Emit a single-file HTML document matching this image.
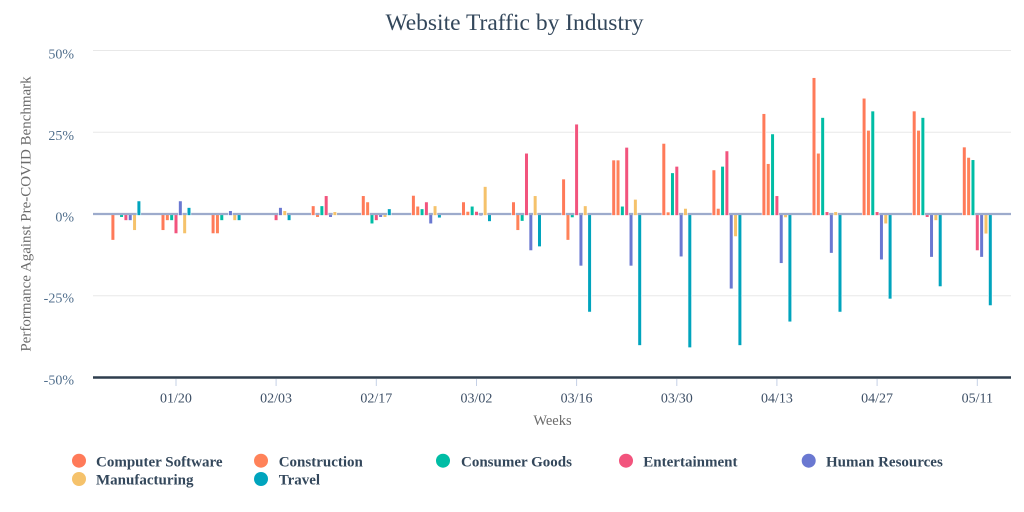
<!DOCTYPE html>
<html><head><meta charset="utf-8"><style>
html,body{margin:0;padding:0;background:#fff;}
svg{display:block;font-family:"Liberation Serif","Times New Roman",serif;}
.a{fill:#FF7A59}.b{fill:#FF8259}.c{fill:#00BDA5}.d{fill:#F2547D}.e{fill:#6A78D1}.f{fill:#F5C26B}.g{fill:#00A4BD}
.bars rect{stroke:#fff;stroke-width:.67;width:3.67px}
.yt{font-size:14px;fill:#506e8c;text-anchor:end}
.xt{font-size:14px;fill:#3d4f66;text-anchor:middle}
.lg{font-size:15px;font-weight:bold;fill:#33475b}
</style></head><body>
<svg width="1024" height="512" viewBox="0 0 1024 512" xmlns="http://www.w3.org/2000/svg">
<rect width="1024" height="512" fill="#fff"/>
<text x="514.5" y="30" text-anchor="middle" font-size="23.5" fill="#33475b">Website Traffic by Industry</text>
<g stroke="#e8e8e8" stroke-width="1">
<line x1="93" y1="50.5" x2="1011" y2="50.5"/>
<line x1="93" y1="132.3" x2="1011" y2="132.3"/>
<line x1="93" y1="295.8" x2="1011" y2="295.8"/>
</g>
<text class="yt" x="74" y="58.7">50%</text>
<text class="yt" x="74" y="140">25%</text>
<text class="yt" x="74" y="221.7">0%</text>
<text class="yt" x="74" y="302.7">-25%</text>
<text class="yt" x="74" y="384.3">-50%</text>
<text transform="translate(30.5 214) rotate(-90)" text-anchor="middle" font-size="15" fill="#6b6b6b">Performance Against Pre-COVID Benchmark</text>

<!-- negative bars -->
<g class="bars">
<g transform="translate(125.9 0)"><rect class="a" x="-14.84" y="214" height="26.2"/><rect class="c" x="-6.17" y="214" height="3.3"/><rect class="d" x="-1.84" y="214" height="6.5"/><rect class="e" x="2.5" y="214" height="6.5"/><rect class="f" x="6.83" y="214" height="16.4"/></g>
<g transform="translate(176 0)"><rect class="a" x="-14.84" y="214" height="16.4"/><rect class="b" x="-10.5" y="214" height="6.5"/><rect class="c" x="-6.17" y="214" height="6.5"/><rect class="d" x="-1.84" y="214" height="19.6"/><rect class="f" x="6.83" y="214" height="19.6"/></g>
<g transform="translate(226.1 0)"><rect class="a" x="-14.84" y="214" height="19.6"/><rect class="b" x="-10.5" y="214" height="19.6"/><rect class="c" x="-6.17" y="214" height="6.5"/><rect class="f" x="6.83" y="214" height="6.5"/><rect class="g" x="11.16" y="214" height="6.5"/></g>
<g transform="translate(276.1 0)"><rect class="d" x="-1.84" y="214" height="6.5"/><rect class="g" x="11.16" y="214" height="6.5"/></g>
<g transform="translate(326.2 0)"><rect class="b" x="-10.5" y="214" height="3.3"/><rect class="e" x="2.5" y="214" height="3.3"/></g>
<g transform="translate(376.3 0)"><rect class="c" x="-6.17" y="214" height="9.8"/><rect class="d" x="-1.84" y="214" height="6.5"/><rect class="e" x="2.5" y="214" height="3.3"/><rect class="f" x="6.83" y="214" height="3.3"/></g>
<g transform="translate(426.4 0)"><rect class="e" x="2.5" y="214" height="9.8"/><rect class="g" x="11.16" y="214" height="3.9"/></g>
<g transform="translate(476.5 0)"><rect class="e" x="2.5" y="214" height="1.8"/><rect class="g" x="11.16" y="214" height="7.5"/></g>
<g transform="translate(526.5 0)"><rect class="b" x="-10.5" y="214" height="16.4"/><rect class="c" x="-6.17" y="214" height="7.2"/><rect class="e" x="2.5" y="214" height="36.6"/><rect class="g" x="11.16" y="214" height="32.7"/></g>
<g transform="translate(576.6 0)"><rect class="b" x="-10.5" y="214" height="26.2"/><rect class="c" x="-6.17" y="214" height="3.6"/><rect class="e" x="2.5" y="214" height="52"/><rect class="g" x="11.16" y="214" height="98.1"/></g>
<g transform="translate(626.7 0)"><rect class="e" x="2.5" y="214" height="52"/><rect class="g" x="11.16" y="214" height="131.5"/></g>
<g transform="translate(676.8 0)"><rect class="e" x="2.5" y="214" height="42.8"/><rect class="g" x="11.16" y="214" height="133.7"/></g>
<g transform="translate(726.9 0)"><rect class="e" x="2.5" y="214" height="74.9"/><rect class="f" x="6.83" y="214" height="22.6"/><rect class="g" x="11.16" y="214" height="131.5"/></g>
<g transform="translate(776.9 0)"><rect class="e" x="2.5" y="214" height="49.4"/><rect class="f" x="6.83" y="214" height="3.6"/><rect class="g" x="11.16" y="214" height="107.9"/></g>
<g transform="translate(827 0)"><rect class="e" x="2.5" y="214" height="39.2"/><rect class="g" x="11.16" y="214" height="98.1"/></g>
<g transform="translate(877.1 0)"><rect class="e" x="2.5" y="214" height="45.8"/><rect class="f" x="6.83" y="214" height="9.8"/><rect class="g" x="11.16" y="214" height="85"/></g>
<g transform="translate(927.2 0)"><rect class="d" x="-1.84" y="214" height="3.3"/><rect class="e" x="2.5" y="214" height="43.2"/><rect class="f" x="6.83" y="214" height="6.5"/><rect class="g" x="11.16" y="214" height="72.6"/></g>
<g transform="translate(977.3 0)"><rect class="d" x="-1.84" y="214" height="36.6"/><rect class="e" x="2.5" y="214" height="43.2"/><rect class="f" x="6.83" y="214" height="19.9"/><rect class="g" x="11.16" y="214" height="91.6"/></g>
</g>

<!-- zero line -->
<line x1="93" y1="214" x2="1011" y2="214" stroke="#9dabcc" stroke-width="2.2"/>

<!-- positive bars -->
<g class="bars">
<g transform="translate(125.9 0)"><rect class="g" x="11.16" y="200.9" height="14.6"/></g>
<g transform="translate(176 0)"><rect class="e" x="2.5" y="200.9" height="14.6"/><rect class="g" x="11.16" y="207.5" height="8"/></g>
<g transform="translate(226.1 0)"><rect class="e" x="2.5" y="210.7" height="4.8"/></g>
<g transform="translate(276.1 0)"><rect class="e" x="2.5" y="207.5" height="8"/><rect class="f" x="6.83" y="210.7" height="4.8"/></g>
<g transform="translate(326.2 0)"><rect class="a" x="-14.84" y="205.8" height="9.7"/><rect class="c" x="-6.17" y="205.8" height="9.7"/><rect class="d" x="-1.84" y="195.7" height="19.8"/><rect class="f" x="6.83" y="211.7" height="3.8"/></g>
<g transform="translate(376.3 0)"><rect class="a" x="-14.84" y="195.7" height="19.8"/><rect class="b" x="-10.5" y="201.9" height="13.6"/><rect class="g" x="11.16" y="208.8" height="6.7"/></g>
<g transform="translate(426.4 0)"><rect class="a" x="-14.84" y="195.4" height="20.1"/><rect class="b" x="-10.5" y="206.2" height="9.3"/><rect class="c" x="-6.17" y="208.8" height="6.7"/><rect class="d" x="-1.84" y="201.9" height="13.6"/><rect class="f" x="6.83" y="205.8" height="9.7"/></g>
<g transform="translate(476.5 0)"><rect class="a" x="-14.84" y="201.9" height="13.6"/><rect class="b" x="-10.5" y="211.4" height="4.1"/><rect class="c" x="-6.17" y="206.2" height="9.3"/><rect class="d" x="-1.84" y="211.4" height="4.1"/><rect class="f" x="6.83" y="186.5" height="29"/></g>
<g transform="translate(526.5 0)"><rect class="a" x="-14.84" y="201.9" height="13.6"/><rect class="d" x="-1.84" y="153.2" height="62.3"/><rect class="f" x="6.83" y="195.7" height="19.8"/></g>
<g transform="translate(576.6 0)"><rect class="a" x="-14.84" y="179" height="36.5"/><rect class="d" x="-1.84" y="124.1" height="91.4"/><rect class="f" x="6.83" y="205.8" height="9.7"/></g>
<g transform="translate(626.7 0)"><rect class="a" x="-14.84" y="160" height="55.5"/><rect class="b" x="-10.5" y="160" height="55.5"/><rect class="c" x="-6.17" y="206.2" height="9.3"/><rect class="d" x="-1.84" y="147.3" height="68.2"/><rect class="f" x="6.83" y="199.3" height="16.2"/></g>
<g transform="translate(676.8 0)"><rect class="a" x="-14.84" y="143.4" height="72.1"/><rect class="b" x="-10.5" y="212" height="3.5"/><rect class="c" x="-6.17" y="172.8" height="42.7"/><rect class="d" x="-1.84" y="166.3" height="49.2"/><rect class="f" x="6.83" y="208.4" height="7.1"/></g>
<g transform="translate(726.9 0)"><rect class="a" x="-14.84" y="169.9" height="45.6"/><rect class="b" x="-10.5" y="208.4" height="7.1"/><rect class="c" x="-6.17" y="166.3" height="49.2"/><rect class="d" x="-1.84" y="150.9" height="64.6"/></g>
<g transform="translate(776.9 0)"><rect class="a" x="-14.84" y="113.6" height="101.9"/><rect class="b" x="-10.5" y="163.6" height="51.9"/><rect class="c" x="-6.17" y="133.9" height="81.6"/><rect class="d" x="-1.84" y="195.7" height="19.8"/></g>
<g transform="translate(827 0)"><rect class="a" x="-14.84" y="77.6" height="137.9"/><rect class="b" x="-10.5" y="153.2" height="62.3"/><rect class="c" x="-6.17" y="117.5" height="98"/><rect class="d" x="-1.84" y="211.7" height="3.8"/><rect class="f" x="6.83" y="211.7" height="3.8"/></g>
<g transform="translate(877.1 0)"><rect class="a" x="-14.84" y="98.2" height="117.3"/><rect class="b" x="-10.5" y="130.3" height="85.2"/><rect class="c" x="-6.17" y="111" height="104.5"/><rect class="d" x="-1.84" y="211.7" height="3.8"/></g>
<g transform="translate(927.2 0)"><rect class="a" x="-14.84" y="111" height="104.5"/><rect class="b" x="-10.5" y="130.3" height="85.2"/><rect class="c" x="-6.17" y="117.5" height="98"/></g>
<g transform="translate(977.3 0)"><rect class="a" x="-14.84" y="147" height="68.5"/><rect class="b" x="-10.5" y="157.4" height="58.1"/><rect class="c" x="-6.17" y="159.7" height="55.8"/></g>
</g>

<!-- x axis -->
<line x1="93" y1="377.5" x2="1011" y2="377.5" stroke="#2f3e4e" stroke-width="2.5"/>
<g stroke="#c5d0e6" stroke-width="1">
<line x1="176" y1="379" x2="176" y2="386"/>
<line x1="276.1" y1="379" x2="276.1" y2="386"/>
<line x1="376.3" y1="379" x2="376.3" y2="386"/>
<line x1="476.5" y1="379" x2="476.5" y2="386"/>
<line x1="576.6" y1="379" x2="576.6" y2="386"/>
<line x1="676.8" y1="379" x2="676.8" y2="386"/>
<line x1="776.9" y1="379" x2="776.9" y2="386"/>
<line x1="877.1" y1="379" x2="877.1" y2="386"/>
<line x1="977.3" y1="379" x2="977.3" y2="386"/>
</g>
<text class="xt" x="176" y="402.5">01/20</text>
<text class="xt" x="276.1" y="402.5">02/03</text>
<text class="xt" x="376.3" y="402.5">02/17</text>
<text class="xt" x="476.5" y="402.5">03/02</text>
<text class="xt" x="576.6" y="402.5">03/16</text>
<text class="xt" x="676.8" y="402.5">03/30</text>
<text class="xt" x="776.9" y="402.5">04/13</text>
<text class="xt" x="877.1" y="402.5">04/27</text>
<text class="xt" x="977.3" y="402.5">05/11</text>
<text x="552.5" y="425" text-anchor="middle" font-size="14.5" fill="#6b6b6b">Weeks</text>

<!-- legend -->
<circle cx="79" cy="460.7" r="7" fill="#FF7A59"/>
<text class="lg" x="96" y="466.5">Computer Software</text>
<circle cx="261" cy="460.7" r="7" fill="#FF8259"/>
<text class="lg" x="278.7" y="466.5">Construction</text>
<circle cx="443" cy="460.7" r="7" fill="#00BDA5"/>
<text class="lg" x="461" y="466.5">Consumer Goods</text>
<circle cx="626" cy="460.7" r="7" fill="#F2547D"/>
<text class="lg" x="643.3" y="466.5">Entertainment</text>
<circle cx="808.7" cy="460.7" r="7" fill="#6A78D1"/>
<text class="lg" x="826" y="466.5">Human Resources</text>
<circle cx="79" cy="479" r="7" fill="#F5C26B"/>
<text class="lg" x="96" y="484.5">Manufacturing</text>
<circle cx="261" cy="479" r="7" fill="#00A4BD"/>
<text class="lg" x="278.7" y="484.5">Travel</text>
</svg>
</body></html>
